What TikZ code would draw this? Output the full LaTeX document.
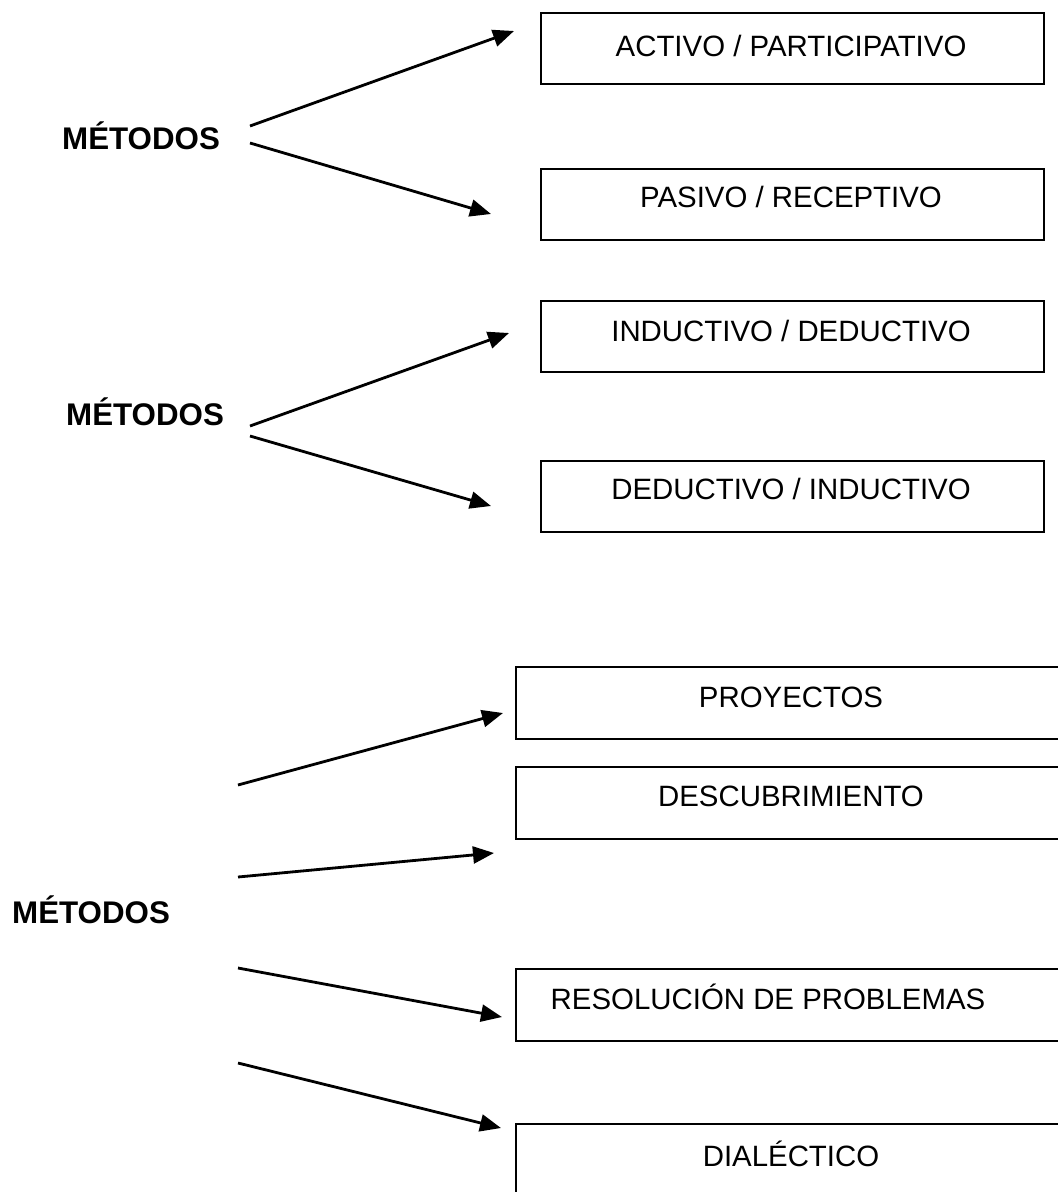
\documentclass[tikz,border=0pt]{standalone}
\usepackage{fontspec}
\setmainfont{Liberation Sans}
\usetikzlibrary{arrows.meta}

\begin{document}
\begin{tikzpicture}[x=1pt, y=-1pt,
  box/.style={draw, line width=2pt, rectangle, inner sep=0pt, anchor=north west},
  shortbox/.style={box, minimum width=503pt, minimum height=71pt},
  longbox/.style={box, minimum width=560pt, minimum height=72pt},
  boxtext/.style={anchor=base, inner sep=0pt, font=\fontsize{29.4}{35}\selectfont},
  heading/.style={anchor=base west, inner sep=0pt, font=\fontsize{31.3}{38}\selectfont\bfseries},
  link/.style={line width=2.8pt, -{Triangle[length=21pt, width=17pt]}}
]
\useasboundingbox (0,0) rectangle (1058,1192);
\clip (0,0) rectangle (1058,1192);

% ---------- first group: activo / pasivo ----------
\node[shortbox] (b1) at (540,12)  {};
\node[shortbox] (b2) at (540,168) {};
\node[boxtext] (t1) at (791,56)  {ACTIVO / PARTICIPATIVO};
\node[boxtext] (t2) at (791,207) {PASIVO / RECEPTIVO};
\node[heading] (m1) at (62,149) {MÉTODOS};

\coordinate (s1a) at (250,126);
\coordinate (s1b) at (250,143);
\coordinate (e1a) at (514,31);
\coordinate (e1b) at (491,214);
\draw[link] (s1a) -- (e1a);
\draw[link] (s1b) -- (e1b);

% ---------- second group: inductivo / deductivo ----------
\node[shortbox] (b3) at (540,300) {};
\node[shortbox] (b4) at (540,460) {};
\node[boxtext] (t3) at (791,341) {INDUCTIVO / DEDUCTIVO};
\node[boxtext] (t4) at (791,499) {DEDUCTIVO / INDUCTIVO};
\node[heading] (m2) at (66,425) {MÉTODOS};

\coordinate (s2a) at (250,426);
\coordinate (s2b) at (250,436);
\coordinate (e2a) at (509,333);
\coordinate (e2b) at (491,506);
\draw[link] (s2a) -- (e2a);
\draw[link] (s2b) -- (e2b);

% ---------- third group: four methods ----------
\node[longbox] (b5) at (515,666)  {};
\node[longbox] (b6) at (515,766)  {};
\node[longbox] (b7) at (515,968)  {};
\node[longbox, minimum height=90pt] (b8) at (515,1123) {};
\node[boxtext] (t5) at (791,707)  {PROYECTOS};
\node[boxtext] (t6) at (791,806)  {DESCUBRIMIENTO};
\node[boxtext] (t7) at (768,1009) {RESOLUCIÓN DE PROBLEMAS};
\node[boxtext] (t8) at (791,1166) {DIALÉCTICO};
\node[heading] (m3) at (12,923) {MÉTODOS};

\coordinate (s3a) at (238,785);
\coordinate (s3b) at (238,877);
\coordinate (s3c) at (238,968);
\coordinate (s3d) at (238,1063);
\coordinate (e3a) at (503,713);
\coordinate (e3b) at (494,853);
\coordinate (e3c) at (502,1017);
\coordinate (e3d) at (501,1128);
\draw[link] (s3a) -- (e3a);
\draw[link] (s3b) -- (e3b);
\draw[link] (s3c) -- (e3c);
\draw[link] (s3d) -- (e3d);
\end{tikzpicture}
\end{document}
